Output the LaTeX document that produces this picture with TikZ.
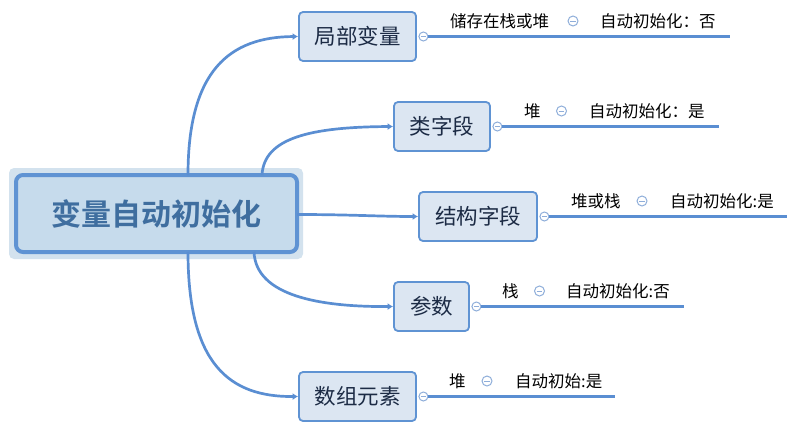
\documentclass[tikz,border=0pt]{standalone}
\usepackage{fontspec}
\newfontfamily\cjk{Noto Sans CJK SC}
\newfontfamily\cjkb{Noto Sans CJK SC Bold}
\usetikzlibrary{arrows.meta}
\definecolor{lineblue}{HTML}{5A8ED2}
\definecolor{boxfill}{HTML}{DCE6F2}
\definecolor{boxdraw}{HTML}{5F93D3}
\definecolor{cfill}{HTML}{C6DBEC}
\definecolor{cglow}{HTML}{D3E2EE}
\definecolor{ctext}{HTML}{3F6E9F}
\definecolor{subtext}{HTML}{1C2B45}
\definecolor{minusc}{HTML}{8FAEDA}
\tikzset{
  x=1pt,y=-1pt,
  subbox/.style={draw=boxdraw,fill=boxfill,line width=1.8pt,rounded corners=4pt,
    minimum height=49pt,inner sep=0pt,text=subtext,font=\cjk\fontsize{21.5}{24}\selectfont},
  conn/.style={draw=lineblue,line width=2.7pt,-{Latex[length=5.5pt,width=7pt]}},
  rowline/.style={draw=lineblue,line width=3pt},
  knob/.style={circle,draw=minusc,fill=white,line width=1pt,minimum size=9pt,inner sep=0pt},
  rowtext/.style={anchor=west,inner sep=0pt,font=\cjk\fontsize{16.5}{18}\selectfont,text=black},
}
\begin{document}
\begin{tikzpicture}
\useasboundingbox (0,0) rectangle (787,431);
% central node
\fill[cglow,rounded corners=5pt] (9,168) rectangle (303,259);
\node[draw=boxdraw,fill=cfill,line width=4pt,rounded corners=7pt,minimum width=281pt,minimum height=77pt,inner sep=0pt,
  text=ctext,font=\cjkb\fontsize{30}{34}\selectfont] (c) at (156.5,213.5) {变量自动初始化};
% sub nodes
\node[subbox,minimum width=117pt] (n1) at (357.5,36.5) {局部变量};
\node[subbox,minimum width=96pt] (n2) at (442,126.5) {类字段};
\node[subbox,minimum width=118pt] (n3) at (478,216.5) {结构字段};
\node[subbox,minimum width=75pt] (n4) at (431.5,306.5) {参数};
\node[subbox,minimum width=117pt] (n5) at (357.5,396.5) {数组元素};
% connector start points
\coordinate (s1) at (188,175);
\coordinate (s2) at (262,175);
\coordinate (s3) at (297,214.5);
\coordinate (s4) at (254,252);
\coordinate (s5) at (188,252);
\draw[conn] (s1) .. controls (188,70) and (230,37) .. (n1.west);
\draw[conn] (s2) .. controls (264,138) and (310,127) .. (n2.west);
\draw[conn] (s3) .. controls (350,214.5) and (380,216.5) .. (n3.west);
\draw[conn] (s4) .. controls (256,296) and (320,307) .. (n4.west);
\draw[conn] (s5) .. controls (188,365) and (230,397) .. (n5.west);
% rows
\coordinate (e1) at (730,36.5);
\coordinate (e2) at (719,126.5);
\coordinate (e3) at (787,216.5);
\coordinate (e4) at (684,306.5);
\coordinate (e5) at (615,396.5);
\foreach \i in {1,...,5}{
  \node[knob] (k\i) at ([xshift=6.5pt]n\i.east) {};
  \draw[rowline] (k\i.east) -- (e\i);
  \draw[minusc,line width=1pt] ([xshift=-2.5pt]k\i.center) -- ([xshift=2.5pt]k\i.center);
}
% row texts
\node[rowtext] (a1) at (450,21) {储存在栈或堆};
\node[knob,minimum size=10pt] (m1) at (573,21) {};
\node[rowtext] (b1) at (600,21) {自动初始化：否};
\node[rowtext] (a2) at (524,111) {堆};
\node[knob,minimum size=10pt] (m2) at (561.5,111) {};
\node[rowtext] (b2) at (589,111) {自动初始化：是};
\node[rowtext] (a3) at (571,201) {堆或栈};
\node[knob,minimum size=10pt] (m3) at (642,201) {};
\node[rowtext] (b3) at (670,201) {自动初始化:是};
\node[rowtext] (a4) at (502,291) {栈};
\node[knob,minimum size=10pt] (m4) at (539.5,291) {};
\node[rowtext] (b4) at (566,291) {自动初始化:否};
\node[rowtext] (a5) at (449,381) {堆};
\node[knob,minimum size=10pt] (m5) at (487,381) {};
\node[rowtext] (b5) at (515,381) {自动初始:是};
\foreach \i in {1,...,5}{
  \draw[minusc,line width=1pt] ([xshift=-2.8pt]m\i.center) -- ([xshift=2.8pt]m\i.center);
}
\end{tikzpicture}
\end{document}
